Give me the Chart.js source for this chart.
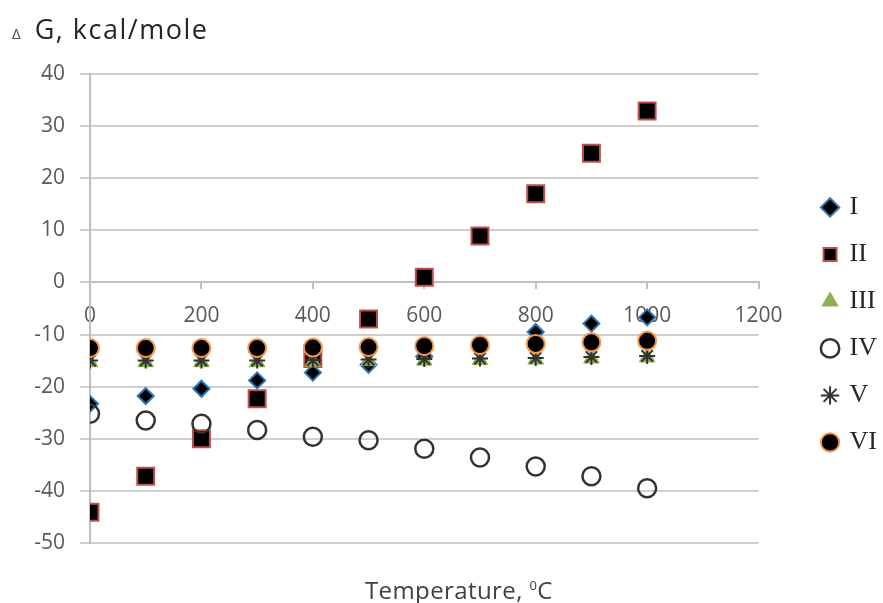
<!DOCTYPE html>
<html>
<head>
<meta charset="utf-8">
<script src="https://cdn.jsdelivr.net/npm/chart.js@4"></script>
<style>
  html, body { margin: 0; padding: 0; background: #fff; }
  #wrap { position: relative; width: 883px; height: 603px; }
  #yTitle { position: absolute; left: 12px; top: 10px; font-family: "Open Sans", sans-serif; font-size: 27px; letter-spacing: 1.5px; color: #262626; white-space: nowrap; }
  #yTitle .delta { font-size: 15px; color: #5a4a3a; margin-right: 14px; letter-spacing: 0; }
  #xTitle { position: absolute; left: 365px; top: 573px; font-family: "Open Sans", sans-serif; font-size: 24px; letter-spacing: 0.4px; color: #404040; white-space: nowrap; }
  #xTitle sup { font-size: 13px; }
</style>
</head>
<body>
<div id="wrap">
  <canvas id="chart" width="883" height="603"></canvas>
  <div id="yTitle"><span class="delta">Δ</span>G, kcal/mole</div>
  <div id="xTitle">Temperature, <sup>0</sup>C</div>
</div>
<script>
// temperatures, °C
const temps = [0, 100, 200, 300, 400, 500, 600, 700, 800, 900, 1000];

// ΔG values (kcal/mole) per reaction
const seriesI   = [-23.3, -21.8, -20.4, -18.8, -17.3, -15.8, -14.2, -11.8, -9.5, -7.9, -6.7];
const seriesII  = [-44.1, -37.2, -30.0, -22.3, -14.6, -7.0, 1.0, 8.9, 17.0, 24.8, 32.9];
const seriesIII = [-15.3, -15.3, -15.3, -15.3, -15.2, -15.1, -15.0, -14.9, -14.8, -14.6, -14.4];
const seriesIV  = [-25.2, -26.5, -27.1, -28.3, -29.6, -30.3, -31.9, -33.6, -35.3, -37.2, -39.5];
const seriesV   = [-15.0, -15.0, -15.0, -15.0, -14.9, -14.8, -14.7, -14.6, -14.5, -14.3, -14.1];
const seriesVI  = [-12.6, -12.6, -12.6, -12.6, -12.5, -12.4, -12.2, -12.0, -11.8, -11.5, -11.2];

const names = ["I", "II", "III", "IV", "V", "VI"];

function toPoints(vals) {
    return temps.map((t, i) => ({ x: t, y: vals[i] }));
}

const styles = [
    { pointStyle: 'rectRot', bg: '#000000', border: '#2e75b6', r: 8, bw: 2 },
    { pointStyle: 'rect', bg: '#000000', border: '#c0504d', r: 12, bw: 2 },
    { pointStyle: 'triangle', bg: '#8db04e', border: '#8db04e', r: 9, bw: 1 },
    { pointStyle: 'circle', bg: 'rgba(255,255,255,0)', border: '#333333', r: 9, bw: 2.5 },
    { pointStyle: 'star', bg: '#333333', border: '#333333', r: 8, bw: 2 },
    { pointStyle: 'circle', bg: '#000000', border: '#f79646', r: 9, bw: 2 }
];
const allSeries = [seriesI, seriesII, seriesIII, seriesIV, seriesV, seriesVI];

const datasets = allSeries.map((vals, i) => ({
    label: names[i],
    data: toPoints(vals),
    pointStyle: styles[i].pointStyle,
    backgroundColor: styles[i].bg,
    borderColor: styles[i].border,
    pointRadius: styles[i].r,
    pointHoverRadius: styles[i].r,
    pointBorderWidth: styles[i].bw,
    showLine: false,
    order: 6 - i // later series drawn on top, like the original
}));

const tickFont = { family: '"Open Sans", sans-serif', size: 21 };

// push the legend a bit further right, away from the plot
const legendShift = {
    id: 'legendShift',
    afterLayout(chart) {
        if (chart.legend) {
            chart.legend.left += 44;
            chart.legend.right += 44;
        }
    }
};

const ctx = document.getElementById("chart").getContext("2d");
new Chart(ctx, {
    type: 'scatter',
    data: { datasets: datasets },
    plugins: [legendShift],
    options: {
        responsive: false,
        animation: false,
        layout: { padding: { top: 74, bottom: 60, left: 0, right: 40 } },
        plugins: {
            tooltip: { enabled: false },
            legend: {
                position: 'right',
                title: { display: true, text: ' ', padding: 8, font: { size: 14 } },
                labels: {
                    sort: (a, b) => a.datasetIndex - b.datasetIndex,
                    usePointStyle: true,
                    boxWidth: 13,
                    boxHeight: 13,
                    padding: 21,
                    color: '#262626',
                    font: { family: '"Liberation Serif", serif', size: 26 }
                }
            }
        },
        scales: {
            x: {
                type: 'linear',
                position: { y: 0 },
                min: 0,
                max: 1200,
                ticks: {
                    stepSize: 200,
                    padding: 15,
                    color: '#595959',
                    font: tickFont,
                    callback: (v) => String(v)
                },
                grid: { drawOnChartArea: false, color: '#bfbfbf', lineWidth: 2, tickLength: 6 },
                border: { color: '#bfbfbf', width: 2 },
                afterFit: (scale) => { scale.height = 0; }
            },
            y: {
                min: -50,
                max: 40,
                ticks: {
                    stepSize: 10,
                    padding: 15,
                    color: '#595959',
                    font: tickFont
                },
                grid: { color: '#cfcfcf', lineWidth: 2, tickLength: 10 },
                border: { color: '#bfbfbf', width: 2 },
                afterFit: (scale) => { scale.width = 90; }
            }
        }
    }
});
</script>
</body>
</html>
